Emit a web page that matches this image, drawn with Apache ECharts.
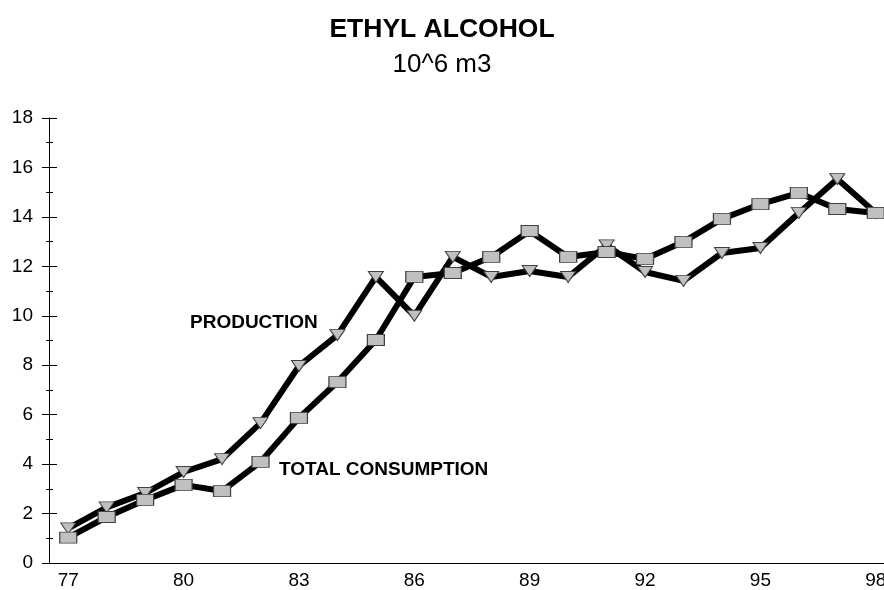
<!DOCTYPE html>
<html>
<head>
<meta charset="utf-8">
<script src="https://cdn.jsdelivr.net/npm/echarts@6/dist/echarts.min.js"></script>
<style>
  html, body { margin: 0; padding: 0; background: #fff; }
  #main { width: 884px; height: 590px; }
</style>
</head>
<body>
<div id="main"></div>
<script>
// years on the x axis
var years = ['77', '78', '79', '80', '81', '82', '83', '84', '85', '86', '87',
             '88', '89', '90', '91', '92', '93', '94', '95', '96', '97', '98']
// 10^6 m3
var production = [1.4, 2.25, 2.83, 3.68, 4.2, 5.66, 7.97, 9.22, 11.57, 10.0, 12.38,
                  11.57, 11.81, 11.57, 12.85, 11.77, 11.41, 12.54, 12.74, 14.16, 15.53, 14.16]
var consumption = [1.03, 1.86, 2.55, 3.16, 2.91, 4.09, 5.87, 7.32, 9.02, 11.57, 11.73,
                   12.38, 13.43, 12.38, 12.58, 12.3, 12.99, 13.92, 14.52, 14.97, 14.32, 14.16]

var font = 'Liberation Sans, Arial, sans-serif'
var axisLine = { lineStyle: { color: '#000', width: 1 } }

var myChart = echarts.init(document.getElementById('main'))

var option = {
  animation: false,
  backgroundColor: '#fff',
  title: {
    text: 'ETHYL ALCOHOL',
    subtext: '10^6 m3',
    left: 'center',
    top: 11,
    itemGap: 9,
    textStyle: { fontFamily: font, fontSize: 26.5, fontWeight: 'bold', color: '#000' },
    subtextStyle: { fontFamily: font, fontSize: 26, color: '#000' }
  },
  grid: { left: 49, width: 846, top: 118, bottom: 27, containLabel: false, outerBoundsMode: 'none' },
  xAxis: [
    {
      type: 'category',
      data: years,
      boundaryGap: true,
      axisLine: axisLine,
      axisTick: { alignWithLabel: true, interval: 0, length: 7, lineStyle: { color: '#000' } },
      axisLabel: { interval: 2, fontFamily: font, fontSize: 19, color: '#000', margin: 8 }
    },
    {
      type: 'category',
      data: years,
      position: 'bottom',
      boundaryGap: true,
      axisLine: axisLine,
      axisTick: { alignWithLabel: true, interval: 0, inside: true, length: 6, lineStyle: { color: '#000' } },
      axisLabel: { show: false }
    }
  ],
  yAxis: [
    {
      type: 'value',
      min: 0,
      max: 18,
      interval: 2,
      axisLine: { show: true, lineStyle: { color: '#000', width: 1 } },
      axisTick: { show: true, length: 7, lineStyle: { color: '#000' } },
      minorTick: { show: true, splitNumber: 2, length: 3, lineStyle: { color: '#000' } },
      splitLine: { show: false },
      axisLabel: { fontFamily: font, fontSize: 19, color: '#000', margin: 16 }
    },
    {
      type: 'value',
      min: 0,
      max: 18,
      interval: 2,
      position: 'left',
      axisLine: { show: true, lineStyle: { color: '#000', width: 1 } },
      axisTick: { show: true, inside: true, length: 8, lineStyle: { color: '#000' } },
      minorTick: { show: true, splitNumber: 2, length: 4, lineStyle: { color: '#000' } },
      splitLine: { show: false },
      axisLabel: { show: false }
    }
  ],
  series: [
    {
      name: 'PRODUCTION',
      type: 'line',
      data: production,
      symbol: 'triangle',
      symbolRotate: 180,
      symbolSize: [15, 11],
      showAllSymbol: true,
      lineStyle: { color: '#000', width: 6 },
      itemStyle: { color: '#c0c0c0', borderColor: '#404040', borderWidth: 1 }
    },
    {
      name: 'TOTAL CONSUMPTION',
      type: 'line',
      data: consumption,
      symbol: 'rect',
      symbolSize: [17, 11],
      showAllSymbol: true,
      lineStyle: { color: '#000', width: 6 },
      itemStyle: { color: '#c0c0c0', borderColor: '#404040', borderWidth: 1 }
    }
  ],
  graphic: [
    {
      type: 'text',
      left: 190,
      top: 313,
      style: { text: 'PRODUCTION', font: 'bold 19px ' + font, fill: '#000' }
    },
    {
      type: 'text',
      left: 279,
      top: 460,
      style: { text: 'TOTAL CONSUMPTION', font: 'bold 19px ' + font, fill: '#000' }
    }
  ]
}

myChart.setOption(option)
</script>
</body>
</html>
